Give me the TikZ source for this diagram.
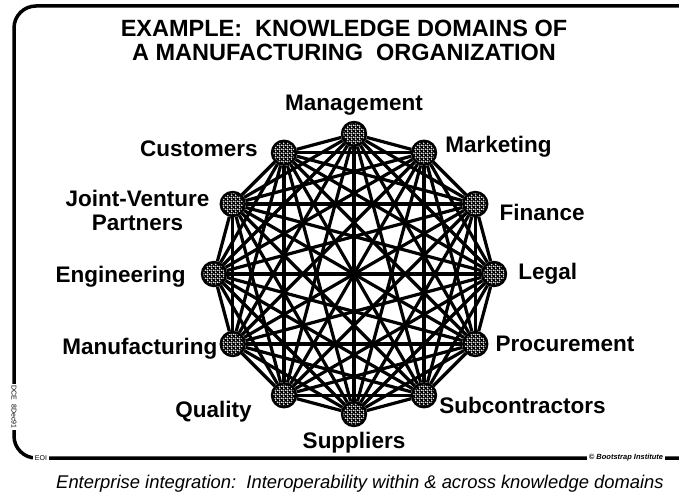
\documentclass[tikz,border=0pt]{standalone}
\usepackage{fontspec}
\setmainfont{Liberation Sans}
\usepackage{tikz}
\usetikzlibrary{positioning, patterns.meta}

\tikzdeclarepattern{
  name=knotmesh,
  type=uncolored,
  bounding box={(0pt,0pt) and (4pt,4pt)},
  tile size={(4pt,4pt)},
  code={\draw[line width=1.6pt] (0pt,0pt) -- (4pt,4pt) (0pt,4pt) -- (4pt,0pt);}
}

\tikzset{
  hub/.style={circle, draw, line width=2.4pt, minimum size=24pt, inner sep=0pt,
    fill=white, postaction={pattern=knotmesh}},
  link/.style={line width=3.2pt},
  tag/.style={font=\bfseries\fontsize{22.5}{24}\selectfont, inner sep=0pt, align=center},
  headline/.style={font=\bfseries\fontsize{23.5}{24}\selectfont, inner sep=0pt, align=center},
  frame/.style={line width=3.5pt, rounded corners=22pt},
  stamp/.style={fill=white, inner sep=1.5pt, font=\fontsize{7}{8}\selectfont},
}

\begin{document}
\begin{tikzpicture}[x=1pt, y=1pt]
  \useasboundingbox (0,0) rectangle (679,501);

  % slide frame
  \draw[frame] (679,495) -- (14,495) -- (14,43) -- (679,43);

  \node[headline] (title) at (344,461)
    {EXAMPLE:\ \ KNOWLEDGE DOMAINS OF\\A MANUFACTURING\ \ ORGANIZATION};

  % twelve domains on a ring
  \begin{scope}[shift={(354,227)}]
    \foreach \a [count=\i] in {90,60,...,-240}
      \node[hub] (n\i) at (\a:140) {};
  \end{scope}

  % every domain tied to every other one
  \foreach \i in {1,...,11} {
    \pgfmathtruncatemacro\nxt{\i+1}
    \foreach \j in {\nxt,...,12}
      \draw[link] (n\i) -- (n\j);
  }

  % domain names
  \node[tag, above=5pt of n1] (mgmt) {Management};
  \node[tag, right=8pt of n2, yshift=6pt] (mkt) {Marketing};
  \node[tag, right=11pt of n3, yshift=-8pt] (fin) {Finance};
  \node[tag, right=11pt of n4] (legal) {Legal};
  \node[tag, right=7pt of n5] (proc) {Procurement};
  \node[tag, right=2pt of n6, yshift=-10pt] (sub) {Subcontractors};
  \node[tag, below=5pt of n7] (supp) {Suppliers};
  \node[tag, left=19pt of n8, yshift=-16pt] (qual) {Quality};
  \node[tag, left=2pt of n9, yshift=-5pt] (mfg) {Manufacturing};
  \node[tag, left=15pt of n10, yshift=-3pt] (eng) {Engineering};
  \node[tag, left=10pt of n11, yshift=-6pt] (jv) {Joint-Venture\\Partners};
  \node[tag, left=13pt of n12, yshift=4pt] (cust) {Customers};

  % marks on the frame
  \node[stamp] (eoi) at (41,43) {EOI};
  \node[stamp, font=\bfseries\itshape\fontsize{7.5}{8}\selectfont] (inst) at (626,43)
    {\textcopyright\ Bootstrap Institute};
  \node[stamp, rotate=-90] (date) at (14,94) {DCE\ \ 8Dec91};

  \node[font=\itshape\fontsize{18.4}{20}\selectfont, inner sep=0pt] (caption) at (360,17)
    {Enterprise integration:\ \ Interoperability within \& across knowledge domains};
\end{tikzpicture}
\end{document}
